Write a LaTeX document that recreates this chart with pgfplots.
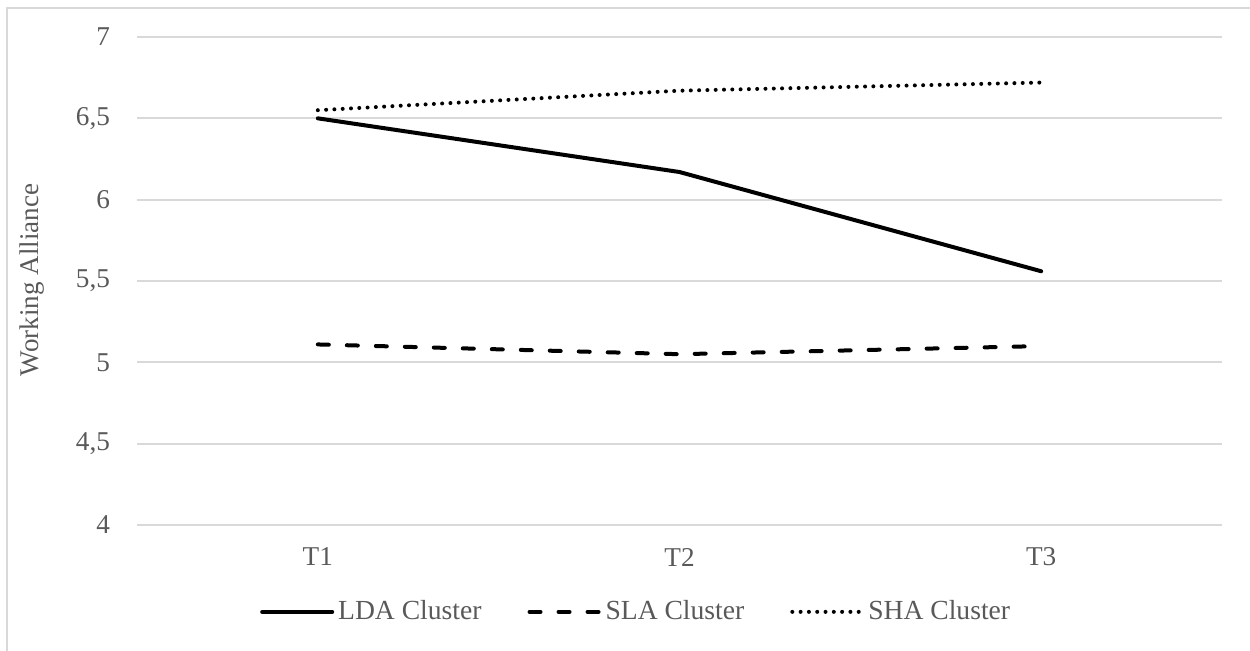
\documentclass[border=0pt]{standalone}
\usepackage{fontspec}
\setmainfont{Liberation Serif}
\usepackage{pgfplots}
\pgfplotsset{compat=1.18}
\definecolor{gridgray}{HTML}{D9D9D9}
\definecolor{txtgray}{HTML}{595959}
\begin{document}
\begin{tikzpicture}
\useasboundingbox (0,0) rectangle (625pt,325pt);
\draw[gridgray, line width=1pt] (3.25pt,-5pt) -- (3.25pt,321.25pt) -- (630pt,321.25pt);
\begin{axis}[
  at={(68.5pt,62.5pt)}, anchor=south west,
  width=542.5pt, height=244pt, scale only axis,
  xmin=0.5, xmax=3.5, ymin=4, ymax=7,
  xtick={1,2,3}, xticklabels={T1,T2,T3},
  ytick={4,4.5,5,5.5,6,6.5,7},
  axis line style={draw=none},
  tick style={draw=none},
  ymajorgrids,
  major grid style={draw=gridgray, line width=1pt},
  /pgf/number format/assume math mode=true,
  /pgf/number format/use comma,
  /pgf/number format/fixed,
  ticklabel style={font=\fontsize{13.6}{16}\selectfont, text=txtgray},
  xticklabel style={anchor=center, yshift=-16pt},
  yticklabel style={anchor=east, xshift=-10pt},
  clip=false,
  legend columns=3,
  legend style={at={(0.461,-0.178)}, anchor=center, draw=none, fill=none,
    font=\fontsize{13.8}{16}\selectfont, text=txtgray,
    /tikz/every even column/.append style={column sep=21pt}},
  legend cell align=left,
  legend image code/.code={\draw[#1] (-3pt,0pt) -- (32pt,0pt);},
]
\addplot[black, line width=2pt, line cap=round] coordinates {(1,6.50) (2,6.17) (3,5.56)};
\addlegendentry{LDA Cluster}
\addplot[black, line width=2pt, line cap=round, dash pattern=on 5.5pt off 9pt] coordinates {(1,5.11) (2,5.05) (3,5.10)};
\addlegendentry{SLA Cluster}
\addplot[black, line width=2pt, line cap=round, dash pattern=on 0pt off 4.15pt] coordinates {(1,6.55) (2,6.67) (3,6.72)};
\addlegendentry{SHA Cluster}
\end{axis}
\node[rotate=90, text=txtgray, font=\fontsize{13.5}{16}\selectfont] at (16pt,185pt) {Working Alliance};
\end{tikzpicture}
\end{document}
